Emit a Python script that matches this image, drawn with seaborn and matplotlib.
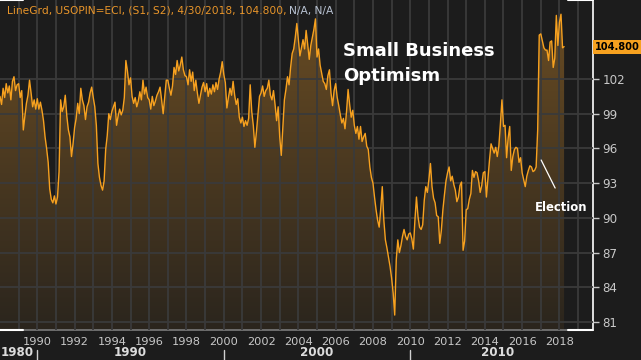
import numpy as np
import pandas as pd
import seaborn as sns
import matplotlib.pyplot as plt
from matplotlib.colors import to_rgb

# NFIB small business optimism index, monthly, Jan 1988 - Apr 2018
opt_1988_1997 = [
    100.5, 99.8, 101.2, 100.4, 101.6, 100.8, 101.4, 100.2, 101.8, 102.2, 101.0, 101.5,  # 1988
    101.6, 100.4, 101.0, 97.6, 98.8, 99.9, 100.6, 101.9, 100.8, 99.6, 100.2, 99.4,      # 1989
    100.3, 99.4, 100.0, 99.3, 98.4, 97.0, 96.0, 94.8, 92.5, 91.6, 91.3, 91.9,          # 1990
    91.2, 91.8, 94.0, 100.2, 99.2, 99.6, 100.6, 98.8, 97.6, 97.0, 95.3, 96.4,          # 1991
    97.8, 98.6, 99.9, 99.0, 101.2, 100.2, 99.7, 98.5, 99.6, 100.0, 100.8, 101.3,       # 1992
    100.4, 99.6, 98.0, 94.7, 93.5, 92.8, 92.4, 93.2, 95.9, 97.1, 99.0, 98.5,           # 1993
    99.2, 99.6, 100.0, 98.0, 98.8, 99.4, 98.9, 99.3, 100.4, 103.6, 102.7, 101.5,       # 1994
    102.1, 100.5, 99.9, 100.4, 99.6, 100.1, 100.9, 100.2, 101.9, 100.7, 101.3, 100.4,  # 1995
    100.2, 99.4, 100.5, 99.7, 100.1, 100.6, 100.9, 101.3, 100.2, 99.0, 100.4, 101.9,   # 1996
    101.9, 101.2, 100.6, 101.4, 103.0, 102.4, 103.6, 102.7, 103.2, 103.9, 102.8, 102.3,  # 1997
]
opt_1998_2007 = [
    102.2, 101.5, 102.8, 101.8, 102.6, 101.0, 101.9, 100.8, 99.9, 100.6, 101.3, 101.7,  # 1998
    100.9, 101.6, 100.5, 101.2, 100.7, 101.5, 100.9, 101.7, 101.1, 102.0, 102.6, 103.5,  # 1999
    102.4, 101.7, 99.5, 100.4, 101.2, 100.6, 101.8, 100.6, 99.8, 100.3, 98.7, 98.2,     # 2000
    98.7, 97.9, 98.4, 98.0, 98.6, 101.5, 99.2, 98.0, 96.1, 97.4, 99.0, 100.5,           # 2001
    100.8, 101.4, 100.5, 101.0, 101.2, 101.9, 100.6, 100.2, 101.0, 99.8, 98.4, 99.6,    # 2002
    97.0, 95.4, 97.8, 100.2, 101.1, 102.2, 101.5, 103.0, 104.2, 104.6, 105.6, 106.8,    # 2003
    105.4, 104.0, 104.7, 105.4, 104.6, 106.2, 105.0, 103.7, 104.9, 105.6, 106.3, 107.2,  # 2004
    103.9, 104.6, 103.2, 102.5, 101.8, 101.6, 101.1, 102.3, 102.8, 100.8, 99.7, 101.0,  # 2005
    101.6, 100.4, 99.7, 98.9, 98.2, 98.6, 97.7, 99.2, 101.1, 99.8, 98.7, 99.3,          # 2006
    98.0, 97.3, 97.9, 96.8, 97.9, 96.6, 97.0, 97.3, 96.2, 95.9, 94.4, 93.5,             # 2007
]
opt_2008_2018 = [
    93.0, 91.8, 90.7, 89.8, 89.2, 90.8, 92.7, 89.8, 88.1, 87.4, 86.6, 85.8,   # 2008
    84.8, 83.5, 81.6, 86.4, 88.1, 87.0, 87.6, 88.4, 89.0, 88.4, 88.1, 88.6,   # 2009
    88.7, 88.2, 87.3, 89.8, 91.8, 90.1, 89.2, 89.0, 89.4, 91.5, 92.7, 92.2,   # 2010
    93.3, 94.7, 92.7, 91.7, 91.3, 90.2, 90.1, 87.8, 88.9, 90.7, 92.0, 93.2,   # 2011
    93.9, 94.4, 93.2, 93.6, 92.9, 92.4, 91.4, 91.8, 92.8, 93.1, 87.2, 88.0,   # 2012
    90.7, 90.8, 91.6, 92.1, 94.1, 93.5, 94.0, 93.9, 93.2, 92.2, 92.8, 93.9,   # 2013
    94.0, 91.8, 93.4, 95.0, 96.4, 96.0, 95.6, 96.1, 95.3, 96.2, 98.1, 100.2,  # 2014
    97.9, 98.0, 95.2, 96.9, 97.9, 94.1, 95.3, 95.9, 96.1, 96.0, 94.8, 95.2,   # 2015
    93.9, 93.3, 92.7, 93.6, 94.1, 94.5, 94.4, 94.0, 94.1, 94.4, 97.6, 105.8,  # 2016
    105.9, 105.3, 104.7, 104.5, 104.5, 103.6, 105.2, 105.3, 103.0, 103.8, 107.5, 104.9,  # 2017
    106.9, 107.6, 104.7, 104.8,                                               # 2018
]
last_value = 104.8

year_ticks = list(range(1990, 2019, 2))
value_ticks = [81, 84, 87, 90, 93, 96, 99, 102]
decades = ["1980", "1990", "2000", "2010"]
decade_centers = [1988.9, 1995.0, 2005.0, 2014.7]

values = opt_1988_1997 + opt_1998_2007 + opt_2008_2018
dates = pd.date_range("1988-01-01", periods=len(values), freq="MS")
df = pd.DataFrame({"date": dates, "value": values})
df["t"] = df["date"].dt.year + (df["date"].dt.month - 1) / 12

BG = "#1c1c1c"
ORANGE = "#f7a11f"
TXT = "#c8c8c8"

sns.set_theme(style="dark", rc={"figure.facecolor": BG, "axes.facecolor": BG})
plt.rcParams["font.family"] = ["DejaVu Sans"]

fig = plt.figure(figsize=(6.41, 3.6), dpi=100)
ax = fig.add_axes([0, 30 / 360, 593 / 641, 330 / 360])
xmin, xmax = 1988.0, 2019.8
ymin, ymax = 80.31, 108.83

# gradient fill under the curve
poly = ax.fill_between(df["t"], df["value"], ymin, facecolor="none", edgecolor="none")
h = 200
alpha = np.linspace(0.37, 0.07, h)[:, None]
orange = np.array(to_rgb("#f0a030"))
bg = np.array(to_rgb(BG))
grad = bg + alpha[..., None] * (orange - bg)
grad = np.repeat(grad, 2, axis=1)
im = ax.imshow(grad, extent=[xmin, xmax, ymin, ymax], aspect="auto", origin="upper", zorder=1)
im.set_clip_path(poly.get_paths()[0], transform=ax.transData)

sns.lineplot(data=df, x="t", y="value", color=ORANGE, linewidth=1.0, ax=ax, zorder=3)

ax.set_xlim(xmin, xmax)
ax.set_ylim(ymin, ymax)
ax.set_xlabel("")
ax.set_ylabel("")

ax.set_xticks(year_ticks)
ax.set_xticklabels([str(y) for y in year_ticks])
ax.set_xticks(range(1989, 2020, 2), minor=True)
ax.yaxis.tick_right()
ax.set_yticks(value_ticks)
ax.set_axisbelow(False)
ax.grid(True, which="both", color="#3a3a3a", linewidth=1.3)
ax.tick_params(axis="x", which="major", colors=TXT, labelsize=8.2, length=3, width=1, pad=2)
ax.tick_params(axis="x", which="minor", length=0)
ax.tick_params(axis="y", colors=TXT, labelsize=8.6, length=4, width=1, pad=3)

for s in ["left", "top"]:
    ax.spines[s].set_visible(False)
ax.spines["right"].set_color("white")
ax.spines["right"].set_linewidth(1.2)
ax.spines["bottom"].set_color("#7a7a7a")
ax.spines["bottom"].set_linewidth(1.2)
for y0 in [0, 1]:
    ax.plot([0, 23 / 593], [y0, y0], color="white", lw=1.5, transform=ax.transAxes, clip_on=False, zorder=5)
    ax.plot([568 / 593, 1], [y0, y0], color="white", lw=1.5, transform=ax.transAxes, clip_on=False, zorder=5)

# decade row under the years
xt = ax.get_xaxis_transform()
for lab, c in zip(decades, decade_centers):
    ax.text(c, -0.068, lab, transform=xt, ha="center", va="center", color="#dcdcdc",
            fontsize=8.6, fontweight="bold", clip_on=False)
for d in [1990, 2000, 2010]:
    ax.plot([d, d], [-0.06, -0.1], transform=xt, color="#d0d0d0", lw=1, clip_on=False)

# header
t1 = ax.text(0.011, 0.968, "LineGrd, USOPIN=ECI, (S1, S2), 4/30/2018, 104.800, ",
             transform=ax.transAxes, color="#e8952a", fontsize=7.7, va="center", ha="left")
ax.annotate("N/A, N/A", xycoords=t1, xy=(1, 0.5), va="center", ha="left",
            color="#b9c3d3", fontsize=7.7)

ax.text(2006.4, 103.3, "Small Business\nOptimism", color="white",
        fontsize=13, fontweight="bold", ha="left", va="center", linespacing=1.5)

# election annotation
ax.plot([2017.02, 2017.77], [95.0, 92.58], color="white", lw=0.9, zorder=4)
ax.text(2018.1, 90.9, "Election", color="white", fontsize=8.4, fontweight="bold",
        ha="center", va="center", zorder=4)

# last value tag on the right axis
ax.text(1.004, last_value, "104.800", transform=ax.get_yaxis_transform(), ha="left", va="center",
        color="black", fontsize=7.1, fontweight="bold", clip_on=False,
        bbox=dict(boxstyle="square,pad=0.2", facecolor=ORANGE, edgecolor="none"))

fig.savefig("out.png", dpi=100, facecolor=BG)
